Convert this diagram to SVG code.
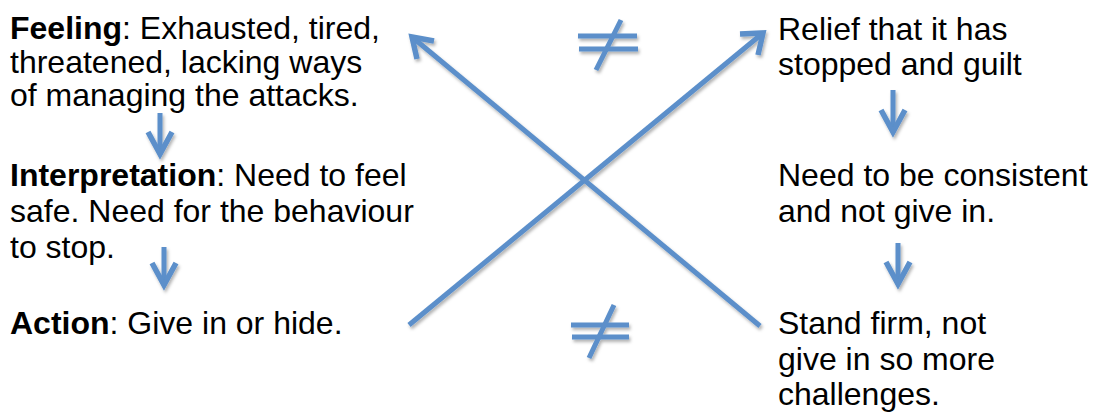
<svg xmlns="http://www.w3.org/2000/svg" width="1098" height="412" viewBox="0 0 1098 412">
<style>
text{font-family:"Liberation Sans",Arial,sans-serif;font-size:32px;fill:#000}
.b{font-weight:bold}
.ln{stroke:#5b8fca;stroke-width:5;fill:none;stroke-linecap:butt}
.ah{stroke:#5b8fca;stroke-width:5.5;fill:none;stroke-linejoin:miter}
</style>
<defs>
<filter id="sh" x="-20%" y="-20%" width="140%" height="140%">
<feDropShadow dx="1.5" dy="2.5" stdDeviation="1.8" flood-color="#000" flood-opacity="0.3"/>
</filter>
</defs>
<g id="feeling">
<text x="10" y="39"><tspan class="b">Feeling</tspan>: Exhausted, tired,</text>
<text x="10" y="73">threatened, lacking ways</text>
<text x="10" y="106">of managing the attacks.</text>
</g>
<g id="interpretation">
<text x="10" y="186"><tspan class="b">Interpretation</tspan>: Need to feel</text>
<text x="10" y="222">safe. Need for the behaviour</text>
<text x="10" y="258">to stop.</text>
</g>
<g id="action">
<text x="10" y="334"><tspan class="b">Action</tspan>: Give in or hide.</text>
</g>
<g id="relief">
<text x="778" y="40">Relief that it has</text>
<text x="778" y="75">stopped and guilt</text>
</g>
<g id="consistent">
<text x="778" y="186">Need to be consistent</text>
<text x="778" y="222">and not give in.</text>
</g>
<g id="standfirm">
<text x="778" y="334">Stand firm, not</text>
<text x="778" y="370">give in so more</text>
<text x="778" y="405">challenges.</text>
</g>
<g id="connectors" filter="url(#sh)">
<line class="ln" x1="409" y1="325" x2="763" y2="33"/>
<polyline class="ah" points="740,34 763,33 758,55"/>
<line class="ln" x1="760" y1="326" x2="412" y2="37"/>
<polyline class="ah" points="434,41 412,37 417,59"/>
<line class="ln" x1="160" y1="113" x2="160" y2="154"/>
<polyline class="ah" points="148,132 160,154 172,132"/>
<line class="ln" x1="164" y1="247" x2="164" y2="285"/>
<polyline class="ah" points="152,263 164,285 176,263"/>
<line class="ln" x1="893" y1="90" x2="893" y2="132"/>
<polyline class="ah" points="881,110 893,132 905,110"/>
<line class="ln" x1="898" y1="243" x2="898" y2="284"/>
<polyline class="ah" points="886,262 898,284 910,262"/>
<line class="ln" x1="578" y1="36" x2="637" y2="36"/>
<line class="ln" x1="579" y1="49" x2="638" y2="49"/>
<line class="ln" x1="621" y1="20" x2="596" y2="70"/>
<line class="ln" x1="571" y1="325" x2="629" y2="325"/>
<line class="ln" x1="572" y1="337" x2="629" y2="337"/>
<line class="ln" x1="614" y1="305" x2="589" y2="358"/>
</g>
</svg>
